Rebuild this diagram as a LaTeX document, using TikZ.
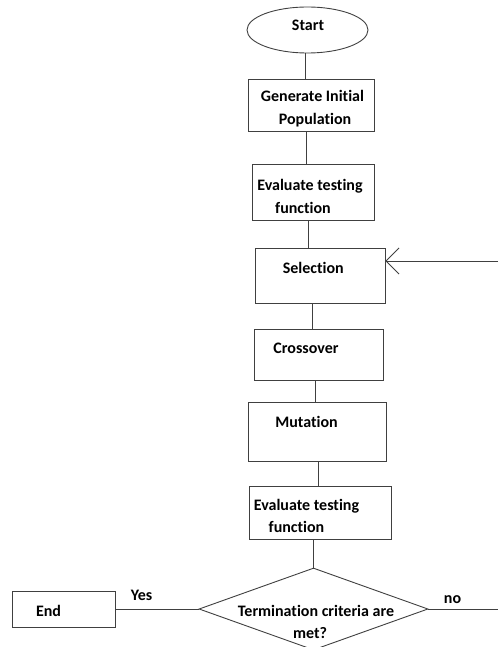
\documentclass[tikz,border=0pt]{standalone}
\usepackage{fontspec}
\setmainfont{Carlito}[Ligatures={NoCommon,NoRare}]
\usetikzlibrary{shapes.geometric,arrows.meta}
\begin{document}
\begin{tikzpicture}[x=1pt,y=-1pt,
  boxst/.style={draw=black!75,line width=0.9pt,rectangle,inner sep=0pt},
  lab/.style={anchor=base,font=\fontsize{16}{19}\selectfont\bfseries,inner sep=0pt},
  conn/.style={draw=black!75,line width=0.9pt}]
\useasboundingbox (0,0) rectangle (498,647);
% shapes
\node[boxst,ellipse,minimum width=121pt,minimum height=46pt] (start) at (307.5,30) {};
\node[boxst,minimum width=126pt,minimum height=52pt] (box1) at (311,105) {};
\node[boxst,minimum width=122pt,minimum height=56pt] (box2) at (313,192) {};
\node[boxst,minimum width=130pt,minimum height=55pt] (sel) at (320,275.5) {};
\node[boxst,minimum width=129pt,minimum height=51pt] (cross) at (318.5,354.5) {};
\node[boxst,minimum width=138pt,minimum height=59pt] (mut) at (317,431.5) {};
\node[boxst,minimum width=142pt,minimum height=53pt] (eval2) at (320,512.5) {};
\node[boxst,diamond,minimum width=229pt,minimum height=82pt] (dia) at (313.5,609) {};
\node[boxst,minimum width=103pt,minimum height=36pt] (end) at (63.5,609) {};
% labels
\node[lab] (tstart) at (308,31) {Start};
\node[lab] (tb1a) at (312.5,102) {Generate Initial};
\node[lab] (tb1b) at (315,125) {Population};
\node[lab] (tb2a) at (310,190.5) {Evaluate testing};
\node[lab] (tb2b) at (303,213) {function};
\node[lab] (tsel) at (313.3,273) {Selection};
\node[lab] (tcross) at (306,353) {Crossover};
\node[lab] (tmut) at (306.5,427) {Mutation};
\node[lab] (te2a) at (306.5,510) {Evaluate testing};
\node[lab] (te2b) at (296.5,532) {function};
\node[lab] (tdia1) at (316,616) {Termination criteria are};
\node[lab] (tdia2) at (310,638.5) {met?};
\node[lab] (tend) at (48.5,616) {End};
\node[lab] (tyes) at (141.5,600.5) {Yes};
\node[lab] (tno) at (452.5,603) {no};
% connectors
\coordinate (fb) at (498,261);
\coordinate (noend) at (498,609);
\draw[conn] (start.south -| 305,0) -- (box1.north -| 305,0);
\draw[conn] (box1.south -| 306,0) -- (box2.north -| 306,0);
\draw[conn] (box2.south -| 308,0) -- (sel.north -| 308,0);
\draw[conn] (sel.south -| 312,0) -- (cross.north -| 312,0);
\draw[conn] (cross.south -| 315,0) -- (mut.north -| 315,0);
\draw[conn] (mut.south -| 318,0) -- (eval2.north -| 318,0);
\draw[conn] (eval2.south -| dia.north) -- (dia.north);
\draw[conn] (dia.west) -- (end.east);
\draw[conn] (dia.east) -- (noend);
\draw[conn,-{Straight Barb[length=13pt,width=26pt]}] (fb) -- (sel.east |- fb);
\end{tikzpicture}
\end{document}
